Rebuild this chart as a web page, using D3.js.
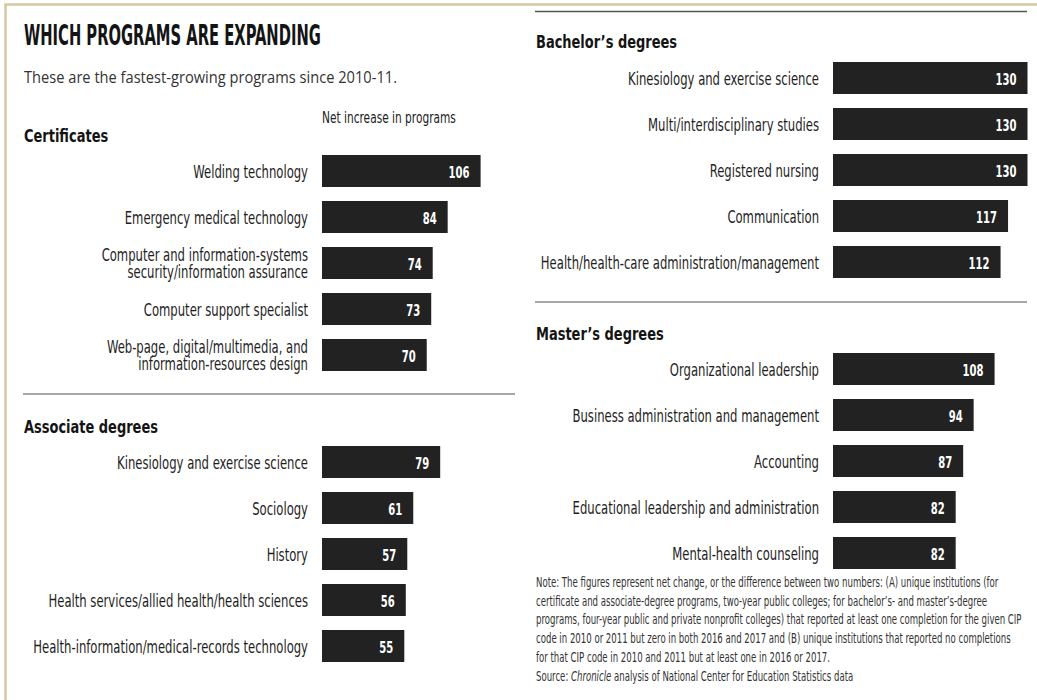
<!DOCTYPE html>
<html>
<head>
<meta charset="utf-8">
<script src="https://cdn.jsdelivr.net/npm/d3@7"></script>
<style>
  html, body { margin: 0; padding: 0; background: #fff; }
  svg { display: block; }
  .cond  { font-family: "Liberation Sans Narrow", "Arial Narrow", "DejaVu Sans Condensed", sans-serif; }
  .title { font-weight: 700; font-size: 28.5px; fill: #141414; }
  .sub   { font-family: "Open Sans", "Noto Sans", sans-serif; font-size: 16.5px; fill: #333; }
  .head  { font-weight: 700; font-size: 18.5px; fill: #141414; }
  .lab   { font-size: 18px; fill: #1e1e1e; }
  .axisnote { font-size: 15.5px; fill: #222; }
  .val   { font-weight: 700; font-size: 16.5px; fill: #fff; }
  .note  { font-size: 13.5px; fill: #333; }
</style>
</head>
<body>
<svg id="chart" width="1037" height="700"></svg>
<script>
// ---- data ---------------------------------------------------------------
const certificateLabels = [
  "Welding technology",
  "Emergency medical technology",
  "Computer and information-systems\nsecurity/information assurance",
  "Computer support specialist",
  "Web-page, digital/multimedia, and\ninformation-resources design"
];
const certificateValues = [106, 84, 74, 73, 70];

const associateLabels = [
  "Kinesiology and exercise science",
  "Sociology",
  "History",
  "Health services/allied health/health sciences",
  "Health-information/medical-records technology"
];
const associateValues = [79, 61, 57, 56, 55];

const bachelorLabels = [
  "Kinesiology and exercise science",
  "Multi/interdisciplinary studies",
  "Registered nursing",
  "Communication",
  "Health/health-care administration/management"
];
const bachelorValues = [130, 130, 130, 117, 112];

const masterLabels = [
  "Organizational leadership",
  "Business administration and management",
  "Accounting",
  "Educational leadership and administration",
  "Mental-health counseling"
];
const masterValues = [108, 94, 87, 82, 82];

const groupTitles = ["Certificates", "Associate degrees", "Bachelor\u2019s degrees", "Master\u2019s degrees"];

const noteLines = [
  "Note: The figures represent net change, or the difference between two numbers: (A) unique institutions (for",
  "certificate and associate-degree programs, two-year public colleges; for bachelor\u2019s- and master\u2019s-degree",
  "programs, four-year public and private nonprofit colleges) that reported at least one completion for the given CIP",
  "code in 2010 or 2011 but zero in both 2016 and 2017 and (B) unique institutions that reported no completions",
  "for that CIP code in 2010 and 2011 but at least one in 2016 or 2017."
];

// ---- drawing ------------------------------------------------------------
const svg = d3.select("#chart");

// shared value scale for every bar
const x = d3.scaleLinear().domain([0, 130]).range([0, 194.5]);

// page frame
svg.append("path")
  .attr("d", "M5.5,700V4.5H1037")
  .attr("fill", "none")
  .attr("stroke", "#d5c9a4")
  .attr("stroke-width", 2.5);

function addText(parent, cls, px, py, str, anchor) {
  return parent.append("text")
    .attr("class", "cond " + cls)
    .attr("text-anchor", anchor || "start")
    .attr("data-x", px)
    .attr("data-y", py)
    .text(str);
}

function rule(x1, x2, y, color, w) {
  svg.append("line")
    .attr("x1", x1).attr("x2", x2).attr("y1", y).attr("y2", y)
    .attr("stroke", color).attr("stroke-width", w);
}

// headline and intro
addText(svg, "title", 24, 45, "WHICH PROGRAMS ARE EXPANDING");
svg.append("text").attr("class", "sub")
  .attr("x", 24).attr("y", 83)
  .text("These are the fastest-growing programs since 2010-11.");
addText(svg, "axisnote", 322, 123, "Net increase in programs");

// one panel of bars
function drawGroup(title, titleX, titleY, labels, values, top, barX) {
  const y = d3.scaleBand()
    .domain(labels)
    .range([top, top + 5 * 46 - 14])
    .paddingInner(14 / 46)
    .paddingOuter(0);

  addText(svg, "head", titleX, titleY, title);

  const g = svg.append("g");
  const rows = labels.map((l, i) => ({ label: l, value: values[i] }));

  g.selectAll("rect")
    .data(rows)
    .join("rect")
    .attr("x", barX)
    .attr("y", d => y(d.label))
    .attr("width", d => x(d.value))
    .attr("height", y.bandwidth())
    .attr("fill", "#222");

  rows.forEach(d => {
    const cy = y(d.label) + y.bandwidth() / 2;
    const lines = d.label.split("\n");
    const lh = 17.5;
    // wrapped labels are one text element with a tspan per line
    const t = addText(g, "lab", barX - 14, cy - (lines.length - 1) / 2 * lh + 6.5, "", "end");
    lines.forEach((ln, j) => {
      t.append("tspan").attr("x", 0).attr("dy", j === 0 ? 0 : lh).text(ln);
    });
    addText(g, "val", barX + x(d.value) - 11, cy + 6.5, d.value, "end");
  });
}

drawGroup(groupTitles[0], 24, 142, certificateLabels, certificateValues, 155, 322);
rule(23, 515, 394, "#8a8a8a", 1.5);
drawGroup(groupTitles[1], 24, 433, associateLabels, associateValues, 446, 322);

rule(535, 1027, 11.5, "#555", 1.5);
drawGroup(groupTitles[2], 536, 48, bachelorLabels, bachelorValues, 62, 833);
rule(535, 1027, 302, "#8a8a8a", 1.5);
drawGroup(groupTitles[3], 536, 340, masterLabels, masterValues, 353, 833);

// footnote
const noteY = [587, 605.7, 624.4, 643.1, 661.8];
noteLines.forEach((ln, i) => addText(svg, "note", 536, noteY[i], ln));
const src = addText(svg, "note", 536, 681, "");
src.append("tspan").text("Source: ");
src.append("tspan").attr("font-style", "italic").text("Chronicle");
src.append("tspan").text(" analysis of National Center for Education Statistics data");

// condensed faces differ in width between systems: scale each text style
// horizontally so that its set width stays the same
function fit(cls, refText, target) {
  const probe = svg.append("text").attr("class", "cond " + cls).text(refText);
  const k = target / probe.node().getComputedTextLength();
  probe.remove();
  svg.selectAll("text." + cls).attr("transform", function () {
    return `translate(${this.getAttribute("data-x")},${this.getAttribute("data-y")}) scale(${k},1)`;
  });
}
fit("title", "WHICH PROGRAMS ARE EXPANDING", 297);
fit("head", "Associate degrees", 134);
fit("lab", "Health-information/medical-records technology", 275);
fit("axisnote", "Net increase in programs", 134);
fit("val", "106", 21);
fit("note", noteLines[2], 486);

// intro line uses a regular-width face, set to its measure
svg.select("text.sub").attr("textLength", 373).attr("lengthAdjust", "spacingAndGlyphs");
</script>
</body>
</html>
